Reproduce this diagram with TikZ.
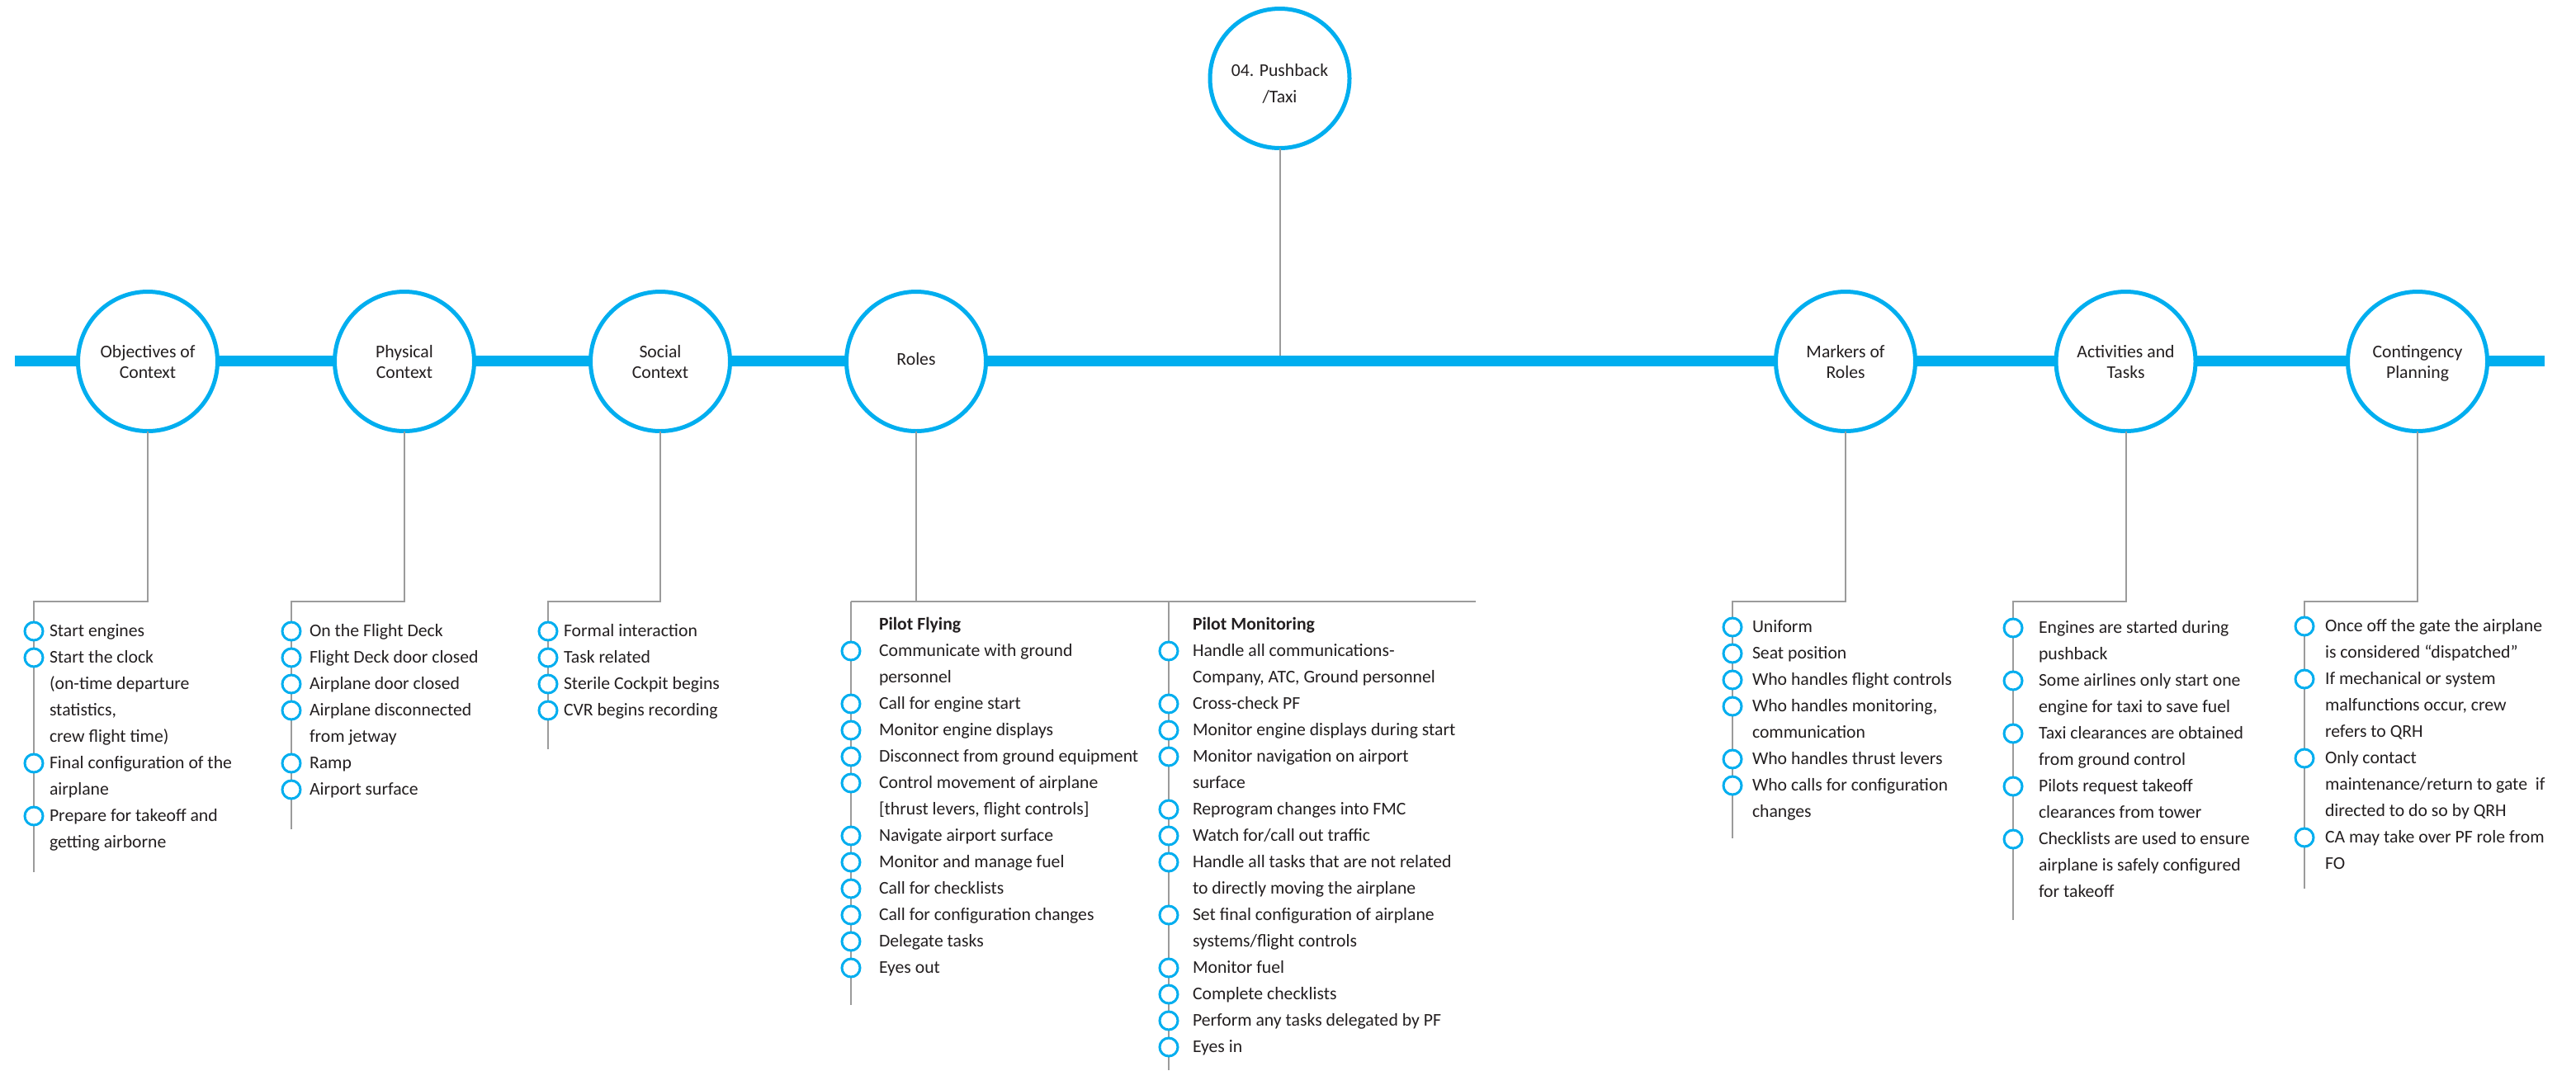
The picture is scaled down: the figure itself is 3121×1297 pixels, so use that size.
\documentclass[tikz,border=0pt]{standalone}
\usepackage{fontspec}
\setmainfont{Carlito}
\definecolor{cblue}{HTML}{00AEEF}
\definecolor{cgray}{HTML}{9B9B9B}
\definecolor{ctext}{HTML}{231F20}
\tikzset{
  bigc/.style={circle,draw=cblue,line width=2.5pt,fill=white,minimum size=84.5pt,inner sep=0pt,outer sep=0pt},
  bul/.style={circle,draw=cblue,line width=1.5pt,fill=white,minimum size=11pt,inner sep=0pt,outer sep=0pt},
  gline/.style={draw=cgray,line width=1pt},
  mainbar/.style={draw=cblue,line width=6.75pt},
  itxt/.style={anchor=west,inner sep=0pt,outer sep=0pt,font=\fontsize{10.85pt}{13pt}\selectfont,text=ctext,text height=6.9pt,text depth=0pt},
  hdr/.style={itxt,font=\fontsize{10.85pt}{13pt}\selectfont\bfseries},
  ttl/.style={anchor=center,inner sep=0pt,outer sep=0pt,font=\fontsize{10.85pt}{13pt}\selectfont,text=ctext,text height=6.9pt,text depth=0pt}
}
\newcommand\mylist[4]{%
  \foreach \yy/\bu/\txt [count=\i] in {#4} {%
    \node[itxt] (#1t\i) at (#3,\yy) {\txt};
    \ifnum\bu=1 \node[bul] (#1b\i) at (#2,\yy) {};\fi
  }%
}
\begin{document}
\begin{tikzpicture}[x=0.5pt,y=-0.5pt]
\useasboundingbox[fill=white] (0,0) rectangle (3121,1297);

% main bar
\coordinate (barL) at (18,437.5);
\coordinate (barR) at (3083,437.5);

% big circles (positions)
\path (179,438) coordinate (pobj);
% pushback line first
\node[bigc] (cpush) at (1550.5,95) {};
\draw[gline] (cpush.south) -- (cpush.south |- barL);
\draw[mainbar] (barL) -- (barR);

\node[bigc] (cobj) at (179,438) {};
\node[bigc] (cphy) at (490,438) {};
\node[bigc] (csoc) at (800,438) {};
\node[bigc] (crol) at (1110,438) {};
\node[bigc] (cmar) at (2236,438) {};
\node[bigc] (cact) at (2575.5,438) {};
\node[bigc] (ccon) at (2929,438) {};

% titles
\node[ttl] (tpush1) at (1550.5,86) {04. Pushback};
\node[ttl] (tpush2) at (1550.5,118) {/Taxi};
\node[ttl] (tobj1) at (179,427) {Objectives of};
\node[ttl] (tobj2) at (179,452) {Context};
\node[ttl] (tphy1) at (490,427) {Physical};
\node[ttl] (tphy2) at (490,452) {Context};
\node[ttl] (tsoc1) at (800,427) {Social};
\node[ttl] (tsoc2) at (800,452) {Context};
\node[ttl] (trol) at (1110,436) {Roles};
\node[ttl] (tmar1) at (2236,427) {Markers of};
\node[ttl] (tmar2) at (2236,452) {Roles};
\node[ttl] (tact1) at (2575.5,427) {Activities and};
\node[ttl] (tact2) at (2575.5,452) {Tasks};
\node[ttl] (tcon1) at (2929,427) {Contingency};
\node[ttl] (tcon2) at (2929,452) {Planning};

% connector coordinates
\coordinate (objL) at (41,729);   \coordinate (objE) at (41,1057);
\coordinate (phyL) at (353,729);  \coordinate (phyE) at (353,1005);
\coordinate (socL) at (664,729);  \coordinate (socE) at (664,908);
\coordinate (rolL) at (1031,729); \coordinate (rolR) at (1788,729);
\coordinate (pfE) at (1031,1218);
\coordinate (pmT) at (1416,729);  \coordinate (pmE) at (1416,1297);
\coordinate (marL) at (2099,729); \coordinate (marE) at (2099,1016);
\coordinate (actL) at (2439,729); \coordinate (actE) at (2439,1115);
\coordinate (conL) at (2792,729); \coordinate (conE) at (2792,1077);

\draw[gline] (cobj.south) -- (cobj.south |- objL) -- (objL) -- (objE);
\draw[gline] (cphy.south) -- (cphy.south |- phyL) -- (phyL) -- (phyE);
\draw[gline] (csoc.south) -- (csoc.south |- socL) -- (socL) -- (socE);
\draw[gline] (crol.south) -- (crol.south |- rolL);
\draw[gline] (rolL) -- (rolR);
\draw[gline] (rolL) -- (pfE);
\draw[gline] (pmT) -- (pmE);
\draw[gline] (cmar.south) -- (cmar.south |- marL) -- (marL) -- (marE);
\draw[gline] (cact.south) -- (cact.south |- actL) -- (actL) -- (actE);
\draw[gline] (ccon.south) -- (ccon.south |- conL) -- (conL) -- (conE);

% lists
\mylist{obj}{41}{60}{765/1/{Start engines}, 797/1/{Start the clock}, 829/0/{(on-time departure}, 861/0/{statistics,}, 893/0/{crew flight time)}, 925/1/{Final configuration of the}, 957/0/{airplane}, 989/1/{Prepare for takeoff and}, 1021/0/{getting airborne}}

\mylist{phy}{353}{375}{765/1/{On the Flight Deck}, 797/1/{Flight Deck door closed}, 829/1/{Airplane door closed}, 861/1/{Airplane disconnected}, 893/0/{from jetway}, 925/1/{Ramp}, 957/1/{Airport surface}}

\mylist{soc}{664}{683}{765/1/{Formal interaction}, 797/1/{Task related}, 829/1/{Sterile Cockpit begins}, 861/1/{CVR begins recording}}

\node[hdr] (pfh) at (1065,757) {Pilot Flying};
\mylist{pf}{1031}{1065}{789/1/{Communicate with ground}, 821/0/{personnel}, 853/1/{Call for engine start}, 885/1/{Monitor engine displays}, 917/1/{Disconnect from ground equipment}, 949/1/{Control movement of airplane}, 981/0/{[thrust levers, flight controls]}, 1013/1/{Navigate airport surface}, 1045/1/{Monitor and manage fuel}, 1077/1/{Call for checklists}, 1109/1/{Call for configuration changes}, 1141/1/{Delegate tasks}, 1173/1/{Eyes out}}

\node[hdr] (pmh) at (1445,757) {Pilot Monitoring};
\mylist{pm}{1416}{1445}{789/1/{Handle all communications-}, 821/0/{Company, ATC, Ground personnel}, 853/1/{Cross-check PF}, 885/1/{Monitor engine displays during start}, 917/1/{Monitor navigation on airport}, 949/0/{surface}, 981/1/{Reprogram changes into FMC}, 1013/1/{Watch for/call out traffic}, 1045/1/{Handle all tasks that are not related}, 1077/0/{to directly moving the airplane}, 1109/1/{Set final configuration of airplane}, 1141/0/{systems/flight controls}, 1173/1/{Monitor fuel}, 1205/1/{Complete checklists}, 1237/1/{Perform any tasks delegated by PF}, 1269/1/{Eyes in}}

\mylist{mar}{2099}{2123}{760/1/{Uniform}, 792/1/{Seat position}, 824/1/{Who handles flight controls}, 856/1/{Who handles monitoring,}, 888/0/{communication}, 920/1/{Who handles thrust levers}, 952/1/{Who calls for configuration}, 984/0/{changes}}

\mylist{act}{2439}{2470}{761/1/{Engines are started during}, 793/0/{pushback}, 825/1/{Some airlines only start one}, 857/0/{engine for taxi to save fuel}, 889/1/{Taxi clearances are obtained}, 921/0/{from ground control}, 953/1/{Pilots request takeoff}, 985/0/{clearances from tower}, 1017/1/{Checklists are used to ensure}, 1049/0/{airplane is safely configured}, 1081/0/{for takeoff}}

\mylist{con}{2792}{2817}{759/1/{Once off the gate the airplane}, 791/0/{is considered “dispatched”}, 823/1/{If mechanical or system}, 855/0/{malfunctions occur, crew}, 887/0/{refers to QRH}, 919/1/{Only contact}, 951/0/{maintenance/return to gate~ if}, 983/0/{directed to do so by QRH}, 1015/1/{CA may take over PF role from}, 1047/0/{FO}}
\end{tikzpicture}
\end{document}
